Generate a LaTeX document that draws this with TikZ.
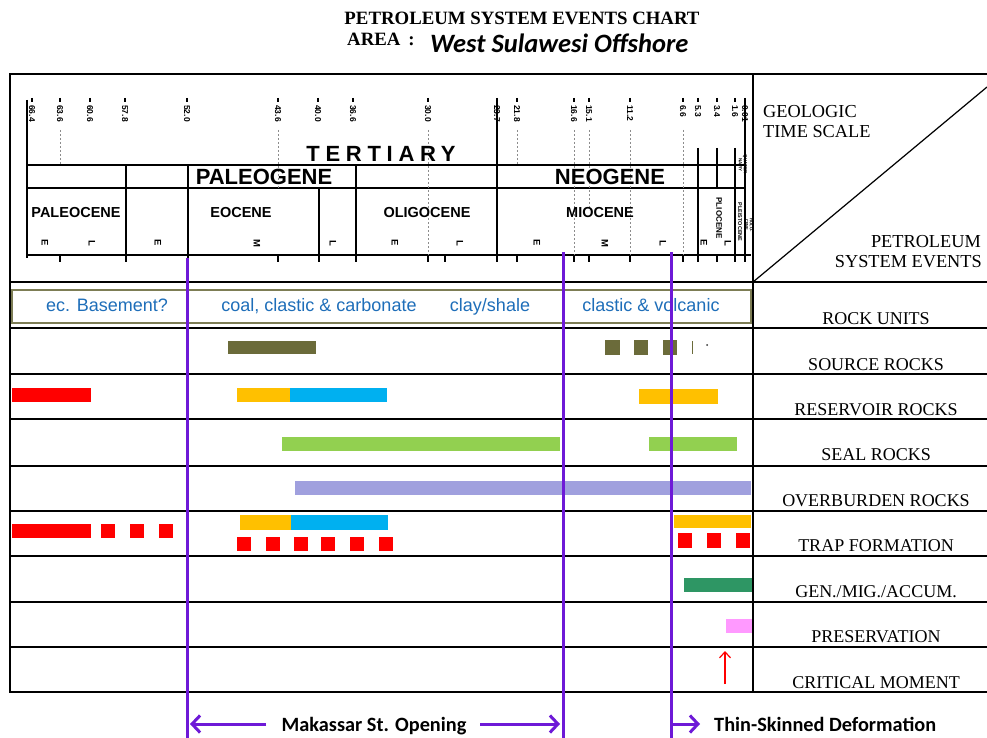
\documentclass[tikz,border=0pt]{standalone}
\usepackage{fontspec}
\setmainfont{Liberation Serif}
\newfontfamily\arialf{Liberation Sans}
\newfontfamily\calf{Carlito}
\usetikzlibrary{arrows.meta}
\definecolor{purp}{RGB}{110,25,215}
\definecolor{rkblue}{RGB}{30,110,185}
\definecolor{olbox}{RGB}{125,125,85}
\definecolor{olsrc}{RGB}{107,107,58}
\definecolor{cred}{RGB}{255,0,0}
\definecolor{corange}{RGB}{255,192,0}
\definecolor{cblue}{RGB}{0,176,240}
\definecolor{cgreen}{RGB}{146,208,80}
\definecolor{clav}{RGB}{160,160,222}
\definecolor{cdkgreen}{RGB}{46,150,100}
\definecolor{cpink}{RGB}{255,153,255}
\tikzset{
  rowlbl/.style={anchor=base, inner sep=0pt, font=\fontsize{18}{20}\selectfont},
  hdrlbl/.style={inner sep=0pt, font=\fontsize{18.3}{19.5}\selectfont},
  rklbl/.style={anchor=base, inner sep=0pt, text=rkblue, font=\arialf\fontsize{18}{20}\selectfont},
  bighdr/.style={anchor=base, inner sep=0pt, font=\arialf\bfseries\fontsize{22}{24}\selectfont},
  epoch/.style={anchor=base, inner sep=0pt, font=\arialf\bfseries\fontsize{14.5}{16}\selectfont},
  agenum/.style={anchor=west, rotate=-90, inner sep=0pt, font=\arialf\bfseries\fontsize{8.5}{8.5}\selectfont},
  sublbl/.style={rotate=-90, inner sep=0pt, font=\arialf\bfseries\fontsize{9.5}{9.5}\selectfont},
  tiny/.style={rotate=-90, inner sep=0pt, align=center, font=\arialf\bfseries\fontsize{4.5}{5}\selectfont},
  botlbl/.style={anchor=base, inner sep=0pt, font=\calf\bfseries\fontsize{20.3}{22}\selectfont},
  pline/.style={draw=purp, line width=3pt},
  parrow/.style={draw=purp, line width=3pt, -{Straight Barb[length=8pt,width=17pt]}},
  grid/.style={line width=1.6pt},
  thick frame/.style={line width=2.5pt},
  faint/.style={draw=black!45, line width=0.5pt, dash pattern=on 2pt off 2pt},
}
\begin{document}
\begin{tikzpicture}[x=1pt,y=-1pt]
\useasboundingbox (0,0) rectangle (987,738);
\fill[white] (0,0) rectangle (987,738);

% Title
\node[anchor=base, inner sep=0pt, font=\bfseries\fontsize{18.8}{20}\selectfont] (title) at (522,25) {PETROLEUM SYSTEM EVENTS CHART};
\node[anchor=base west, inner sep=0pt, font=\bfseries\fontsize{18.8}{20}\selectfont] (area) at (347,46) {AREA\hspace{8pt}:};
\node[anchor=base west, inner sep=0pt, font=\calf\bfseries\itshape\fontsize{26.5}{29}\selectfont] (areaname) at (430,53) {West Sulawesi Offshore};

% Frame and grid
\draw[thick frame] (987,74) -- (10,74) -- (10,692) -- (987,692);
\draw[thick frame] (753,74) -- (753,692);
\draw[line width=2pt] (10,282) -- (987,282);
\foreach \yy in {328,374,419,466,511,556,602,647}
  \draw[grid] (10,\yy) -- (987,\yy);
\draw[line width=1.2pt] (753,282) -- (987,87);

% Right header texts
\node[hdrlbl, anchor=base west] (geo1) at (763,118) {GEOLOGIC};
\node[hdrlbl, anchor=base west] (geo2) at (763,138) {TIME SCALE};
\node[hdrlbl, anchor=base east] (pse1) at (981,247) {PETROLEUM};
\node[hdrlbl, anchor=base east] (pse2) at (982,267) {SYSTEM EVENTS};

% Row labels
\node[rowlbl] (r1) at (876,324) {ROCK UNITS};
\node[rowlbl] (r2) at (876,370) {SOURCE ROCKS};
\node[rowlbl] (r3) at (876,415) {RESERVOIR ROCKS};
\node[rowlbl] (r4) at (876,460) {SEAL ROCKS};
\node[rowlbl] (r5) at (876,506) {OVERBURDEN ROCKS};
\node[rowlbl] (r6) at (876,551) {TRAP FORMATION};
\node[rowlbl] (r7) at (876,597) {GEN./MIG./ACCUM.};
\node[rowlbl] (r8) at (876,642) {PRESERVATION};
\node[rowlbl] (r9) at (876,688) {CRITICAL MOMENT};

% Time scale
\draw[line width=2pt] (27,100) -- (27,258);
\draw[line width=1.3pt] (27,165) -- (746,165);
\draw[line width=1.3pt] (27,188) -- (746,188);
\draw[line width=2pt] (27,255) -- (751,255);
\foreach \xx/\ya/\yb in {126/165/260,188/165/260,319/188/260,356/165/260,497/100/260,698/148/260,717/148/188,735/148/260,745/100/260}
  \draw[line width=1.2pt] (\xx,\ya) -- (\xx,\yb);
\foreach \xx/\ya/\yb in {428/130/255,517/130/165,574/130/255,589/130/210,630/130/255,683/130/255,278/130/188,60/130/165}
  \draw[faint] (\xx,\ya) -- (\xx,\yb);
\foreach \xx in {60,126,188,278,319,356,428,445,497,517,574,589,630,683,698,717,735,745}
  \draw[line width=1.2pt] (\xx,255) -- (\xx,262);
\foreach \xx/\nn in {32/66.4,60/63.6,90/60.6,125/57.8,187/52.0,278/43.6,318/40.0,353/36.6,428/30.0,497/23.7,517/21.8,574/16.6,589/15.1,630/11.2,683/6.6,698/5.3,717/3.4,735/1.6,745/0.01}{
  \draw[line width=1.2pt] (\xx,98) -- (\xx,102);
  \node[agenum] (age\xx) at (\xx,105) {\nn};
}
\node[bighdr, font=\arialf\bfseries\fontsize{22}{24}\selectfont\addfontfeature{LetterSpace=26}] (tert) at (381,161.5) {TERTIARY};
\node[bighdr] (paleog) at (264,185) {PALEOGENE};
\node[bighdr] (neog) at (610,185) {NEOGENE};
\node[epoch] (paleoc) at (76,217) {PALEOCENE};
\node[epoch] (eoc) at (241,217) {EOCENE};
\node[epoch] (olig) at (427,217) {OLIGOCENE};
\node[epoch] (mioc) at (600,217) {MIOCENE};
\node[sublbl, font=\arialf\bfseries\fontsize{8}{8}\selectfont] (plio) at (719,218) {PLIOCENE};
\node[tiny, font=\arialf\bfseries\fontsize{5.5}{6}\selectfont] (pleis) at (740,222) {PLEISTOCENE};
\node[tiny] (quat) at (743,165) {QUATER-\\NARY};
\node[tiny, font=\arialf\bfseries\fontsize{4}{4.5}\selectfont] (holo) at (749,225) {HOLO-\\CENE};
\foreach \xx/\ll in {45/E,92/L,158/E,257/M,333/L,395/E,460/L,537/E,605/M,663/L,704/E,728/L}
  \node[sublbl] (sub\xx) at (\xx,243) {\ll};

% Rock units
\draw[draw=olbox, line width=2.5pt, fill=white] (12,290) rectangle (751,323);
\node[rklbl] (ru1) at (107,311) {ec. Basement?};
\node[rklbl] (ru2) at (319,311) {coal, clastic \& carbonate};
\node[rklbl] (ru3) at (490,311) {clay/shale};
\node[rklbl] (ru4) at (651,311) {clastic \& volcanic};

% Source rocks
\fill[olsrc] (228,341) rectangle (316,354);
\foreach \xa/\xb in {605/620,634/648,663/677} \fill[olsrc] (\xa,340) rectangle (\xb,355);
\draw[olsrc, line width=1pt] (692,341) -- (692,354);
\fill[black!80] (707,345) circle (1pt);

% Reservoir
\fill[cred] (12,388) rectangle (91,402);
\fill[corange] (237,388) rectangle (290,402);
\fill[cblue] (290,388) rectangle (387,402);
\fill[corange] (639,389) rectangle (718,404);

% Seal
\fill[cgreen] (282,437) rectangle (560,451);
\fill[cgreen] (649,437) rectangle (737,451);

% Overburden
\fill[clav] (295,481) rectangle (751,495);

% Trap formation
\fill[cred] (12,524) rectangle (91,538);
\foreach \xa in {101,130,159} \fill[cred] (\xa,524) rectangle (\xa+14,538);
\fill[corange] (240,515) rectangle (291,530);
\fill[cblue] (291,515) rectangle (388,530);
\foreach \xa in {237,266,294,321,350,379} \fill[cred] (\xa,537) rectangle (\xa+14,551);
\fill[corange] (674,515) rectangle (751,528);
\foreach \xa in {678,707,736} \fill[cred] (\xa,533) rectangle (\xa+14,548);

% Gen/Mig/Accum
\fill[cdkgreen] (684,578) rectangle (752,592);
% Preservation
\fill[cpink] (726,619) rectangle (752,633);
% Critical moment
\coordinate (cmA) at (725,684);
\coordinate (cmB) at (725,651);
\draw[cred, line width=1.2pt, -{Straight Barb[length=6pt,width=11pt]}] (cmA) -- (cmB);

% Purple event lines
\draw[pline] (187,258) -- (187,738);
\draw[pline] (563,252) -- (563,738);
\draw[pline] (671,252) -- (671,738);

% Bottom labels and arrows
\node[botlbl] (mak) at (374,731) {Makassar St. Opening};
\node[botlbl, anchor=base west] (thin) at (714,731) {Thin-Skinned Deformation};
\coordinate (mLs) at (266,724);
\coordinate (mL) at (190,724);
\coordinate (mRs) at (480,724);
\coordinate (mR) at (560,724);
\coordinate (tS) at (673,724);
\coordinate (tE) at (700,724);
\draw[parrow] (mLs) -- (mL);
\draw[parrow] (mRs) -- (mR);
\draw[parrow] (tS) -- (tE);
\end{tikzpicture}
\end{document}
